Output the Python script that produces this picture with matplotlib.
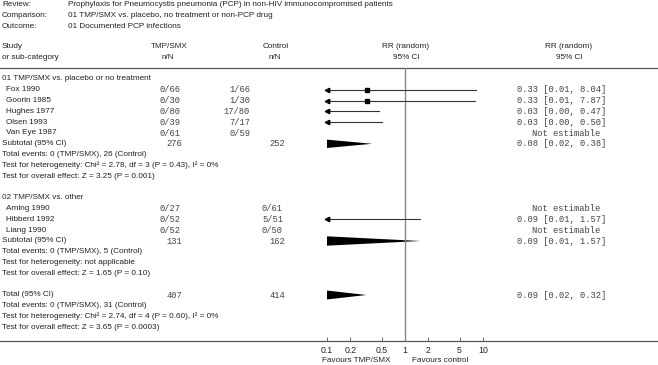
import matplotlib.pyplot as plt
import numpy as np

# header info
review = 'Prophylaxis for Pneumocystis pneumonia (PCP) in non-HIV immunocompromised patients'
comparison = '01 TMP/SMX vs. placebo, no treatment or non-PCP drug'
outcome = '01 Documented PCP infections'

# subgroup 1
g1_title = '01 TMP/SMX vs. placebo or no treatment'
g1_names = ['Fox 1990', 'Goorin 1985', 'Hughes 1977', 'Olsen 1993', 'Van Eye 1987']
g1_tmp = ['0/66', '0/30', '0/80', '0/39', '0/61']
g1_ctl = ['1/66', '1/30', '17/80', '7/17', '0/59']
g1_rr = [0.33, 0.33, 0.03, 0.03, np.nan]
g1_lo = [0.01, 0.01, 0.00, 0.00, np.nan]
g1_hi = [8.04, 7.87, 0.47, 0.50, np.nan]
g1_sub = (0.08, 0.02, 0.38)
g1_n = ('276', '252')
g1_notes = ['Total events: 0 (TMP/SMX), 26 (Control)',
            'Test for heterogeneity: Chi² = 2.78, df = 3 (P = 0.43), I² = 0%',
            'Test for overall effect: Z = 3.25 (P = 0.001)']

# subgroup 2
g2_title = '02 TMP/SMX vs. other'
g2_names = ['Arning 1990', 'Hibberd 1992', 'Liang 1990']
g2_tmp = ['0/27', '0/52', '0/52']
g2_ctl = ['0/61', '5/51', '0/50']
g2_rr = [np.nan, 0.09, np.nan]
g2_lo = [np.nan, 0.01, np.nan]
g2_hi = [np.nan, 1.57, np.nan]
g2_sub = (0.09, 0.01, 1.57)
g2_n = ('131', '162')
g2_notes = ['Total events: 0 (TMP/SMX), 5 (Control)',
            'Test for heterogeneity: not applicable',
            'Test for overall effect: Z = 1.65 (P = 0.10)']

# overall
tot = (0.09, 0.02, 0.32)
tot_n = ('407', '414')
tot_notes = ['Total events: 0 (TMP/SMX), 31 (Control)',
             'Test for heterogeneity: Chi² = 2.74, df = 4 (P = 0.60), I² = 0%',
             'Test for overall effect: Z = 3.65 (P = 0.0003)']

ticks = [0.1, 0.2, 0.5, 1, 2, 5, 10]
tick_labels = ['0.1', '0.2', '0.5', '1', '2', '5', '10']

W, H = 658, 365
SANS = 'Liberation Sans'
MONO = 'Liberation Mono'
FS = 5.9
MS = 6.3
TXT = '#222222'
MTXT = '#444444'

fig = plt.figure(figsize=(W / 100, H / 100), dpi=100)
bg = fig.add_axes([0, 0, 1, 1])
bg.set_xlim(0, W)
bg.set_ylim(H, 0)
bg.axis('off')

y0, dy = 79, 10.8


def ry(k):
    return y0 + dy * k


def txt(x, y, s, mono=False, **kw):
    bg.text(x, y, s, fontsize=MS if mono else FS, family=MONO if mono else SANS,
            color=MTXT if mono else TXT, va='center', **kw)


# top info
for i, (lab, val) in enumerate([('Review:', review), ('Comparison:', comparison),
                                ('Outcome:', outcome)]):
    txt(2, 5 + 10.5 * i, lab)
    txt(68, 5 + 10.5 * i, val)

txt(2, 47, 'Study')
txt(2, 57.5, 'or sub-category')
txt(169, 47, 'TMP/SMX', ha='center')
txt(168, 57.5, 'n/N', ha='center')
txt(276, 47, 'Control', ha='center')
txt(275, 57.5, 'n/N', ha='center')
txt(406, 47, 'RR (random)', ha='center')
txt(406, 57.5, '95% CI', ha='center')
txt(569, 47, 'RR (random)', ha='center')
txt(569, 57.5, '95% CI', ha='center')

bg.plot([0, W], [68, 68], color='#555555', lw=0.9)
bg.plot([0, W], [340.5, 340.5], color='#555555', lw=0.9)

# forest axes: 0.1 at x=327 px, 10 at x=483 px
px0, px1 = 327, 483
top, bot = 68, 340.5
ax = fig.add_axes([px0 / W, (H - bot) / H, (px1 - px0) / W, (bot - top) / H])
ax.set_xscale('log')
ax.set_xlim(0.1, 10)
ax.set_ylim((bot - y0) / dy, (top - y0) / dy)
ax.patch.set_alpha(0)
for s in ax.spines.values():
    s.set_visible(False)
ax.set_yticks([])
ax.set_xticks(ticks)
ax.set_xticklabels(tick_labels)
ax.minorticks_off()
ax.tick_params(axis='x', direction='in', length=3, width=0.6, color='#555555',
               labelsize=6.3, labelcolor=TXT, pad=4)
for t in ax.get_xticklabels():
    t.set_family(SANS)
ax.axvline(1, color='#888888', lw=1.0)


def ci_row(k, rr, lo, hi):
    if np.isnan(rr):
        return
    left = max(lo, 0.1)
    ax.plot([left, hi], [k, k], color='#333333', lw=0.8)
    if lo < 0.1:
        ax.plot([0.1], [k], marker='<', ms=3.2, color='black', clip_on=False)
    if rr >= 0.1:
        ax.plot([rr], [k], marker='s', ms=3.4, color='black')


def diamond(k, est, lo, hi, h=0.45):
    ax.fill([lo, est, hi, est], [k, k - h, k, k + h], color='black', lw=0)


def sub_block(start, title, names, tmp, ctl, rr, lo, hi, n, est, notes, label):
    k = start
    if title:
        txt(2, ry(k), title)
        k += 1
    for i in range(len(names)):
        txt(6, ry(k), names[i])
        txt(180, ry(k), tmp[i], mono=True, ha='right')
        txt(ctl_right[title], ry(k), ctl[i], mono=True, ha='right')
        if np.isnan(rr[i]):
            txt(532, ry(k), 'Not estimable', mono=True)
        else:
            ci_row(k, rr[i], lo[i], hi[i])
            txt(517, ry(k), '%.2f [%.2f, %.2f]' % (rr[i], lo[i], hi[i]), mono=True)
        k += 1
    txt(2, ry(k), label)
    txt(182, ry(k), n[0], mono=True, ha='right')
    txt(285, ry(k), n[1], mono=True, ha='right')
    diamond(k, *est)
    txt(517, ry(k), '%.2f [%.2f, %.2f]' % est, mono=True)
    k += 1
    for note in notes:
        txt(2, ry(k), note)
        k += 1


ctl_right = {g1_title: 250, g2_title: 283, None: 283}
sub_block(0, g1_title, g1_names, g1_tmp, g1_ctl, g1_rr, g1_lo, g1_hi,
          g1_n, g1_sub, g1_notes, 'Subtotal (95% CI)')
sub_block(11, g2_title, g2_names, g2_tmp, g2_ctl, g2_rr, g2_lo, g2_hi,
          g2_n, g2_sub, g2_notes, 'Subtotal (95% CI)')
sub_block(20, None, [], [], [], [], [], [], tot_n, tot, tot_notes, 'Total (95% CI)')

txt(390, 360, 'Favours TMP/SMX', ha='right')
txt(412, 360, 'Favours control', ha='left')

fig.savefig('out.png', dpi=100)
